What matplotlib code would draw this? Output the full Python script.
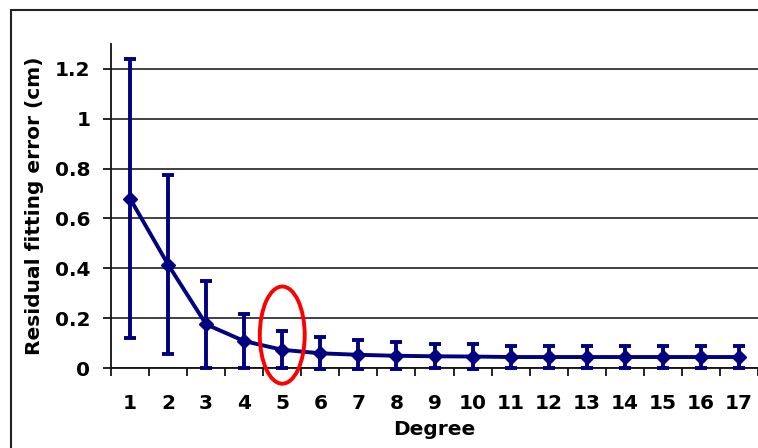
import numpy as np
import matplotlib.pyplot as plt
from matplotlib.patches import Ellipse, Rectangle

plt.rcParams['font.family'] = ['DejaVu Sans']
plt.rcParams['font.weight'] = 'bold'

degree = np.arange(1, 18)
mean_err = [0.68, 0.415, 0.175, 0.108, 0.073, 0.059, 0.053, 0.049, 0.047,
            0.046, 0.044, 0.044, 0.044, 0.044, 0.044, 0.044, 0.044]
sd_err = [0.56, 0.36, 0.175, 0.108, 0.075, 0.064, 0.058, 0.054, 0.049,
          0.049, 0.045, 0.045, 0.045, 0.045, 0.045, 0.045, 0.045]
yticks = [0, 0.2, 0.4, 0.6, 0.8, 1.0, 1.2]
ytick_labels = ['0', '0.2', '0.4', '0.6', '0.8', '1', '1.2']

navy = '#000080'
fs = 14.5

fig = plt.figure(figsize=(7.58, 4.48), dpi=100)
ax = fig.add_axes([111/758, 80/448, 647/758, 324/448])

# outer chart border (cut off at right/bottom like the original)
fig.patches.append(Rectangle((11/758, -0.1), 1.2, 1 - 10/448 + 0.1,
                             transform=fig.transFigure, fill=False,
                             edgecolor='#222222', linewidth=1.5))

ax.set_xlim(0.5, 17.5)
ax.set_ylim(0, 1.3)
ax.set_yticks(yticks)
ax.set_yticklabels(ytick_labels)
ax.yaxis.grid(True, color='#333333', linewidth=1.3)
ax.set_axisbelow(True)

# category axis: ticks between categories, labels at centres
ax.set_xticks(np.arange(0.5, 18, 1))
ax.set_xticklabels([])
ax.set_xticks(degree, minor=True)
ax.set_xticklabels([str(d) for d in degree], minor=True)
ax.tick_params(axis='x', which='major', direction='out', length=5.5, width=1.2)
ax.tick_params(axis='x', which='minor', length=0, pad=19, labelsize=fs)
ax.tick_params(axis='y', direction='out', length=5.8, width=1.2, pad=9,
               labelsize=fs)

for s in ['top', 'right']:
    ax.spines[s].set_visible(False)
for s in ['left', 'bottom']:
    ax.spines[s].set_linewidth(1.3)
    ax.spines[s].set_color('#111111')

eb = ax.errorbar(degree, mean_err, yerr=sd_err, color=navy, linewidth=2.8,
                 marker='D', markersize=7, elinewidth=2.8, capsize=4.5,
                 capthick=2.8, zorder=3)
for art in eb.lines[1]:
    art.set_clip_on(False)
for art in eb.lines[2]:
    art.set_clip_on(False)
eb.lines[0].set_clip_on(False)

ax.add_patch(Ellipse((5, 0.132), 1.18, 0.39, fill=False, edgecolor='red',
                     linewidth=2.8, zorder=4, clip_on=False))

ax.set_xlabel('Degree', fontsize=fs, fontweight='bold', labelpad=5)
ax.set_ylabel('Residual fitting error (cm)', fontsize=fs, fontweight='bold',
              labelpad=8)

fig.savefig('out.png', dpi=100)
